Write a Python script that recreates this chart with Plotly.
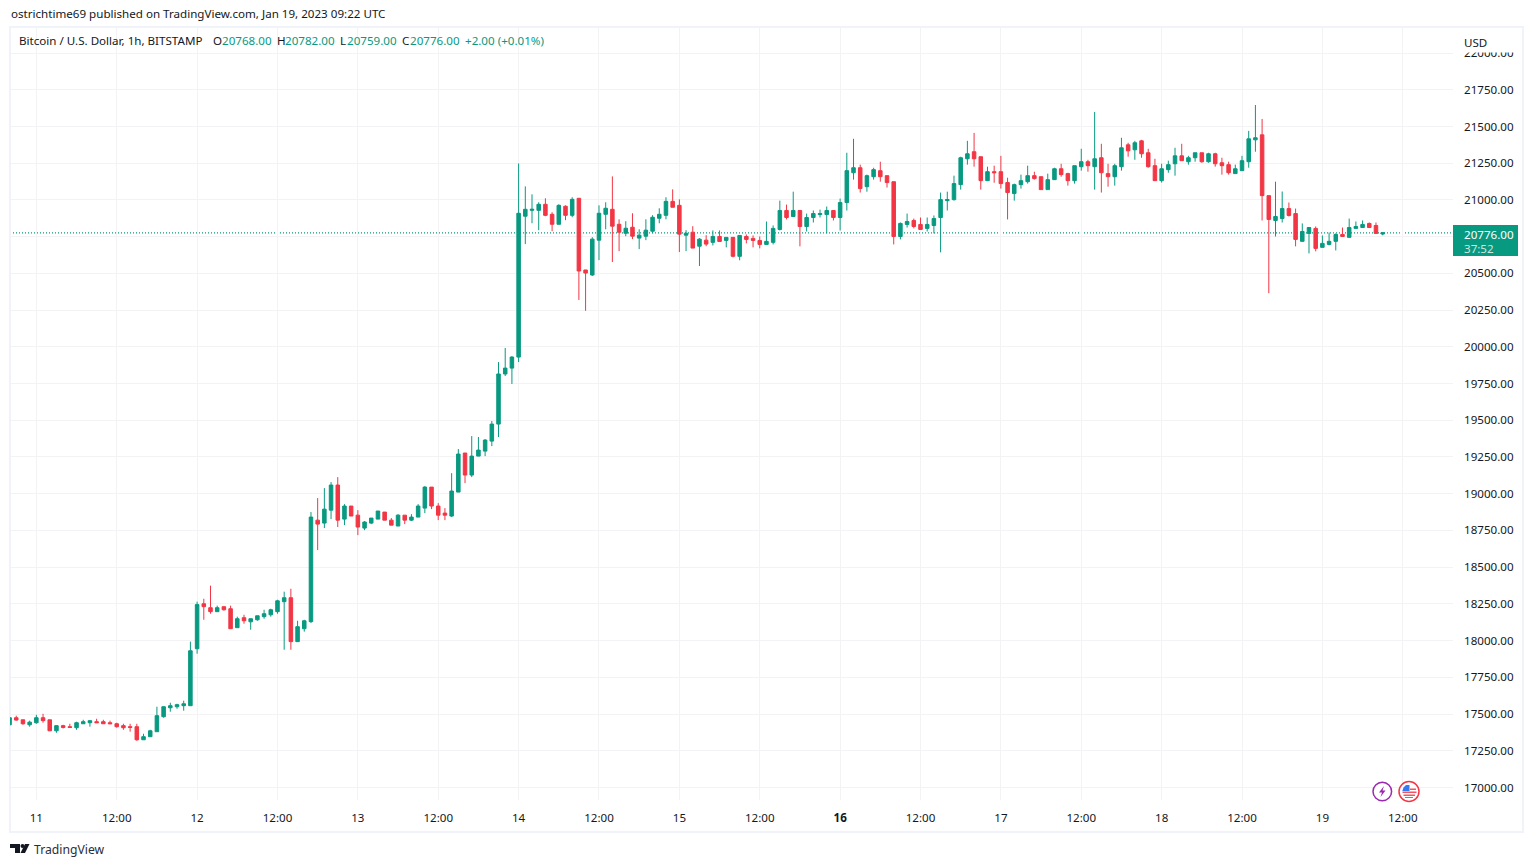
# %%
import pandas as pd
import plotly.graph_objects as go

# %%
# hourly candles, Jan 10 20:00 to Jan 19 09:00, one row per day
opens = [
    17427,17475,17461,17427,
    17441,17475,17461,17386,17421,17414,17407,17434,17441,17448,17448,17441,17434,17421,17414,17414,17325,17346,17380,17482,17543,17550,17557,17557,
    17945,18251,18224,18197,18231,18217,18088,18156,18128,18142,18163,18176,18197,18265,18292,17993,18081,18129,18820,18800,18888,19059,18827,18916,
    18854,18766,18800,18827,18875,18820,18780,18854,18820,18841,18902,19045,18916,18868,18848,19011,19277,19127,19256,19290,19358,19474,19815,19855,
    19930,20889,20929,20929,20970,20902,20834,20957,20895,21011,20523,20489,20726,20902,20936,20834,20773,20814,20740,20753,20787,20875,20895,20990,
    20963,20760,20780,20685,20726,20711,20751,20724,20745,20616,20751,20738,20724,20697,20711,20799,20928,20887,20928,20819,20880,20900,20900,20928,
    20880,20982,21185,21219,21090,21158,21199,21165,21124,20751,20833,20860,20833,20806,20826,20880,20995,21002,21104,21280,21328,21294,21131,21192,
    21192,21118,21043,21104,21124,21165,21158,21070,21138,21212,21179,21131,21226,21260,21226,21287,21179,21158,21226,21375,21341,21402,21321,21233,
    21131,21206,21246,21300,21260,21287,21321,21260,21314,21253,21240,21179,21199,21260,21409,21443,21029,20860,20873,20941,20907,20718,20772,20806,
    20677,20697,20718,20765,20745,20806,20812,20840,20826,20768,
]
highs = [
    17475,17489,17461,17455,
    17495,17502,17461,17423,17427,17434,17448,17461,17455,17468,17461,17455,17441,17434,17434,17434,17366,17393,17550,17550,17577,17570,17591,17993,
    18265,18285,18374,18238,18231,18238,18163,18176,18149,18169,18210,18217,18278,18333,18353,18135,18142,18875,18970,19038,19079,19113,18929,18916,
    18888,18814,18834,18882,18875,18834,18861,18854,18861,18929,19052,19045,18936,18902,19140,19304,19277,19392,19386,19372,19495,19896,19992,19937,
    21248,21092,21038,20984,21011,20916,20970,20963,21018,21011,20523,20746,20963,20984,21160,20868,20855,20909,20800,20868,20896,20943,21018,21072,
    21004,20794,20821,20740,20760,20792,20792,20745,20745,20758,20765,20758,20751,20853,20826,20995,20968,21056,20928,20907,20928,20934,20955,20928,
    21009,21321,21416,21240,21172,21219,21260,21165,21124,20846,20907,20873,20880,20880,20894,21050,21056,21165,21294,21402,21456,21294,21226,21233,
    21300,21151,21111,21172,21233,21192,21158,21179,21219,21246,21185,21233,21348,21273,21599,21382,21246,21246,21423,21389,21402,21409,21348,21280,
    21246,21267,21355,21382,21300,21321,21321,21321,21321,21287,21260,21240,21300,21470,21646,21551,21029,21124,21057,20982,20941,20840,20812,20819,
    20758,20778,20772,20812,20873,20853,20860,20846,20846,20782,
]
lows = [
    17427,17455,17427,17414,
    17434,17441,17386,17373,17402,17409,17393,17434,17414,17441,17434,17434,17407,17393,17380,17318,17325,17346,17380,17475,17516,17536,17523,17557,
    17911,18142,18183,18197,18204,18081,18088,18115,18074,18135,18149,18163,18183,17938,17938,17993,18061,18120,18616,18766,18827,18773,18786,18848,
    18718,18752,18793,18827,18820,18786,18780,18793,18814,18841,18868,18895,18820,18820,18841,19011,19072,19113,19256,19256,19324,19386,19801,19747,
    19896,20699,20841,20794,20889,20787,20834,20862,20882,20319,20245,20482,20590,20800,20577,20651,20753,20733,20665,20726,20773,20841,20868,20950,
    20645,20651,20672,20550,20685,20690,20717,20677,20609,20589,20704,20677,20670,20697,20697,20792,20867,20887,20684,20785,20846,20880,20772,20860,
    20792,20928,21138,21050,21056,21138,21124,21084,20697,20731,20812,20806,20799,20785,20772,20643,20928,20995,21070,21240,21226,21070,21131,21117,
    21077,20867,20995,21077,21111,21138,21070,21070,21138,21158,21097,21111,21199,21192,21070,21050,21090,21097,21199,21294,21273,21287,21219,21131,
    21118,21185,21165,21267,21240,21260,21253,21253,21226,21172,21172,21179,21199,21219,21328,20860,20365,20751,20846,20887,20684,20718,20636,20650,
    20677,20690,20656,20751,20745,20806,20812,20812,20768,20759,
]
closes = [
    17475,17459,17434,17445,
    17475,17455,17386,17421,17409,17409,17441,17448,17455,17441,17434,17434,17414,17407,17409,17325,17346,17386,17489,17550,17557,17564,17570,17931,
    18245,18231,18197,18224,18210,18081,18149,18135,18149,18169,18183,18210,18271,18292,17993,18095,18135,18841,18793,18895,19059,18820,18916,18848,
    18773,18807,18834,18882,18820,18786,18854,18820,18841,18916,19045,18916,18854,18854,19018,19270,19127,19256,19297,19365,19474,19815,19855,19930,
    20909,20936,20936,20970,20895,20834,20963,20895,21004,20516,20502,20733,20909,20943,20821,20780,20807,20753,20760,20794,20882,20902,20990,20950,
    20767,20773,20672,20733,20699,20751,20717,20745,20616,20758,20731,20724,20697,20718,20806,20928,20880,20928,20819,20880,20907,20907,20928,20880,
    20982,21199,21219,21077,21165,21206,21158,21118,20751,20840,20853,20819,20799,20833,20873,21002,21002,21111,21287,21314,21280,21131,21192,21185,
    21111,21050,21104,21131,21165,21145,21070,21138,21212,21172,21131,21233,21260,21233,21280,21185,21158,21233,21355,21334,21389,21314,21226,21131,
    21212,21240,21300,21267,21287,21321,21260,21314,21246,21233,21185,21212,21267,21416,21423,21029,20867,20887,20941,20894,20731,20785,20812,20670,
    20704,20718,20765,20751,20812,20819,20833,20812,20772,20776,
]
times = pd.date_range("2023-01-10 20:00", periods=len(opens), freq="h")

price_ticks = [17000, 17250, 17500, 17750, 18000, 18250, 18500, 18750, 19000, 19250, 19500,
               19750, 20000, 20250, 20500, 20750, 21000, 21250, 21500, 21750, 22000]
time_ticks = ["2023-01-11 00:00", "2023-01-11 12:00", "2023-01-12 00:00", "2023-01-12 12:00",
              "2023-01-13 00:00", "2023-01-13 12:00", "2023-01-14 00:00", "2023-01-14 12:00",
              "2023-01-15 00:00", "2023-01-15 12:00", "2023-01-16 00:00", "2023-01-16 12:00",
              "2023-01-17 00:00", "2023-01-17 12:00", "2023-01-18 00:00", "2023-01-18 12:00",
              "2023-01-19 00:00", "2023-01-19 12:00"]
time_labels = ["11", "12:00", "12", "12:00", "13", "12:00", "14", "12:00", "15", "12:00",
               "<b>16</b>", "12:00", "17", "12:00", "18", "12:00", "19", "12:00"]
last_price = 20776

# %%
GREEN = "#089981"
RED = "#F23645"
TEXT = "#131722"
FONT = "Noto Sans"
FS = 11.6
W, H = 1533, 867
LEFT, RIGHT, TOP, BOTTOM = 10, 1453, 27, 800


def px(x):
    return (x - LEFT) / (RIGHT - LEFT)


def py(y):
    return (BOTTOM - y) / (BOTTOM - TOP)


def label(x, y, text, color=TEXT, size=FS, **kw):
    fig.add_annotation(xref="paper", yref="paper", x=px(x), y=py(y), text=text, showarrow=False,
                       xanchor="left", yanchor="middle", align="left",
                       font=dict(family=FONT, size=size, color=color), borderpad=0, **kw)


def path_shape(points, **kw):
    d = "M" + " L".join(f"{px(a)},{py(b)}" for a, b in points) + " Z"
    fig.add_shape(type="path", xref="paper", yref="paper", path=d, **kw)


def circle(cx, cy, r, **kw):
    fig.add_shape(type="circle", xref="paper", yref="paper", x0=px(cx - r), x1=px(cx + r),
                  y0=py(cy + r), y1=py(cy - r), **kw)


fig = go.Figure(go.Candlestick(
    x=times, open=opens, high=highs, low=lows, close=closes,
    increasing=dict(line=dict(color=GREEN, width=1), fillcolor=GREEN),
    decreasing=dict(line=dict(color=RED, width=1), fillcolor=RED),
    whiskerwidth=0, showlegend=False,
))

# the 20750 label sits behind the price tag in the original, so it stays empty
price_labels = ["" if v == 20750 else f"{v:.2f}" for v in price_ticks]

fig.update_layout(
    width=W, height=H, autosize=False, template=None,
    margin=dict(l=LEFT, r=W - RIGHT, t=TOP, b=H - BOTTOM, pad=0),
    paper_bgcolor="white", plot_bgcolor="white", boxgap=0.25,
    font=dict(family=FONT, size=FS, color=TEXT),
    xaxis=dict(type="date", range=["2023-01-10 20:04", "2023-01-19 19:30"], rangeslider=dict(visible=False),
               tickmode="array", tickvals=time_ticks, ticktext=time_labels, tickangle=0,
               showgrid=True, gridcolor="#F3F3F5", gridwidth=1, zeroline=False, showline=False,
               ticks="", ticklabelstandoff=9, tickfont=dict(family=FONT, size=FS, color=TEXT)),
    yaxis=dict(range=[16915, 22177], side="right", tickmode="array", tickvals=price_ticks,
               ticktext=price_labels,
               showgrid=True, gridcolor="#F3F3F5", gridwidth=1, zeroline=False, showline=False,
               ticks="", ticklabelstandoff=10, tickfont=dict(family=FONT, size=FS, color=TEXT)),
)

# last price line
fig.add_shape(type="line", xref="paper", yref="y", x0=0, x1=1, y0=last_price, y1=last_price,
              line=dict(color=GREEN, width=1.3, dash="1px,2px"), layer="below")

# outer frame
fig.add_shape(type="rect", xref="paper", yref="paper", x0=px(10), x1=px(1523), y0=py(832), y1=py(27),
              line=dict(color="#F0F3FA", width=2), layer="below")

# header texts
label(10, 14, "ostrichtime69 published on TradingView.com, Jan 19, 2023 09:22 UTC")
label(18, 40.5, "Bitcoin / U.S. Dollar, 1h, BITSTAMP")
for x_l, letter, x_v, val in [(212, "O", 221, "20768.00"), (276, "H", 284, "20782.00"),
                              (339, "L", 346, "20759.00"), (401, "C", 409, "20776.00")]:
    label(x_l, 40.5, letter)
    label(x_v, 40.5, val, color=GREEN)
label(464, 40.5, "+2.00 (+0.01%)", color=GREEN)

# USD box hides the top of the 22000 tick
fig.add_annotation(xref="paper", yref="paper", x=px(1463), y=py(31), xanchor="left", yanchor="top",
                   width=56, height=20, text="USD", showarrow=False, align="left", valign="middle",
                   bgcolor="white", borderpad=0, font=dict(family=FONT, size=FS, color=TEXT))

# price tag
fig.add_shape(type="rect", xref="paper", yref="paper", x0=px(1453), x1=px(1518), y0=py(256), y1=py(225),
              fillcolor=GREEN, line=dict(width=0), layer="above")
label(1463, 234, "20776.00", color="white")
label(1463, 248, "37:52", color="#C9E8E2")

# event icons
circle(1382.3, 791.5, 9.3, line=dict(color="#9C27B0", width=1.5), fillcolor="white")
path_shape([(1384, 786), (1379, 792.5), (1382, 792.5), (1380.5, 797), (1385.5, 790.5), (1382.5, 790.5)],
           fillcolor="#9C27B0", line=dict(width=0))
circle(1409, 791.5, 10, line=dict(color="#F23645", width=1.5), fillcolor="white")
for y0, y1, x0, x1 in [(788.5, 790, 1410, 1416), (791.5, 793, 1402.5, 1416.5),
                       (794.5, 796, 1403.5, 1415), (797, 798, 1405, 1413)]:
    fig.add_shape(type="rect", xref="paper", yref="paper", x0=px(x0), x1=px(x1), y0=py(y1), y1=py(y0),
                  fillcolor="#F7525F", line=dict(width=0))
path_shape([(1409.5, 785), (1409.5, 791), (1402.3, 791), (1403.5, 787.5), (1406, 785)],
           fillcolor="#3179F5", line=dict(width=0))

# logo
path_shape([(10, 844), (20, 844), (20, 853), (15, 853), (15, 848), (10, 848)], fillcolor=TEXT, line=dict(width=0))
circle(22.5, 846, 2, fillcolor=TEXT, line=dict(width=0))
path_shape([(25, 844), (29.5, 844), (25, 853), (20.5, 853)], fillcolor=TEXT, line=dict(width=0))
label(33, 849.5, "TradingView", color="#2A2E39", size=12.2)

fig.write_html("out.html", config={"displayModeBar": False},
               post_script="document.body.style.margin='0';")
